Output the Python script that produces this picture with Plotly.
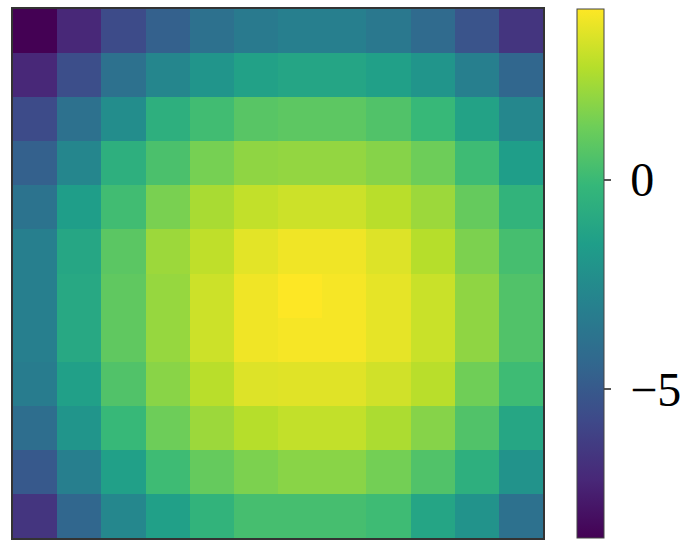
import plotly.graph_objects as go

x_labels = list(range(12))
y_labels = list(range(12))

row_0 = [-8.55, -7.16, -5.65, -4.64, -3.88, -3.38, -3.12, -3.12, -3.50, -4.20, -5.27, -6.59]
row_1 = [-7.16, -5.52, -3.88, -2.74, -1.99, -1.36, -1.17, -1.17, -1.42, -1.99, -3.12, -4.39]
row_2 = [-5.65, -3.88, -2.37, -0.60, 0.16, 0.73, 0.85, 0.85, 0.54, -0.09, -1.29, -2.68]
row_3 = [-4.64, -2.74, -0.60, 0.41, 1.42, 1.92, 1.99, 1.99, 1.74, 1.23, 0.09, -1.55]
row_4 = [-3.75, -1.55, 0.16, 1.48, 2.43, 2.93, 3.12, 3.12, 2.74, 2.18, 1.04, -0.35]
row_5 = [-3.12, -1.10, 0.79, 2.18, 2.87, 3.57, 3.82, 3.82, 3.44, 2.68, 1.55, 0.28]
row_6 = [-3.12, -0.98, 0.92, 2.05, 3.12, 3.82, 4.07, 3.94, 3.63, 3.06, 1.92, 0.54]
row_7 = [-3.12, -0.98, 0.92, 2.05, 3.12, 3.82, 3.94, 3.94, 3.63, 3.06, 1.92, 0.54]
row_8 = [-3.25, -1.42, 0.54, 1.80, 2.74, 3.44, 3.50, 3.50, 3.19, 2.74, 1.29, 0.09]
row_9 = [-4.01, -1.99, -0.09, 1.23, 2.18, 2.68, 2.93, 2.93, 2.49, 1.74, 0.54, -1.10]
row_10 = [-5.02, -3.12, -1.42, 0.09, 1.04, 1.55, 1.80, 1.80, 1.36, 0.54, -0.60, -2.11]
row_11 = [-6.59, -4.39, -2.68, -1.42, -0.35, 0.28, 0.28, 0.28, 0.09, -1.17, -2.11, -3.88]

z_values = [row_0, row_1, row_2, row_3, row_4, row_5,
            row_6, row_7, row_8, row_9, row_10, row_11]

cbar_tickvals = [0, -5]
cbar_ticktext = ["\u20090", "\u2009\u22125"]

fig = go.Figure(
    go.Heatmap(
        z=z_values,
        x=x_labels,
        y=y_labels,
        colorscale="Viridis",
        zmin=-8.55,
        zmax=4.07,
        colorbar=dict(
            tickvals=cbar_tickvals,
            ticktext=cbar_ticktext,
            ticks="outside",
            ticklen=7,
            tickwidth=1.5,
            tickcolor="#555555",
            tickfont=dict(family="Liberation Serif", size=48, color="black"),
            thickness=27,
            len=1.0,
            lenmode="fraction",
            y=0.5,
            yanchor="middle",
            x=1.064,
            xanchor="left",
            xpad=0,
            ypad=0,
            outlinewidth=1,
            outlinecolor="#444444",
        ),
    )
)

fig.update_xaxes(
    showticklabels=False, ticks="", showgrid=False, zeroline=False,
    showline=True, linecolor="#333333", linewidth=1.5, mirror=True,
)
fig.update_yaxes(
    showticklabels=False, ticks="", showgrid=False, zeroline=False,
    autorange="reversed",
    showline=True, linecolor="#333333", linewidth=1.5, mirror=True,
)

fig.update_layout(
    width=700,
    height=550,
    margin=dict(l=13, r=157, t=7, b=12),
    paper_bgcolor="white",
    plot_bgcolor="white",
)

fig.write_html(
    "out.html",
    config={"displayModeBar": False},
    post_script="document.body.style.margin='0px';document.body.style.overflow='hidden';",
)
